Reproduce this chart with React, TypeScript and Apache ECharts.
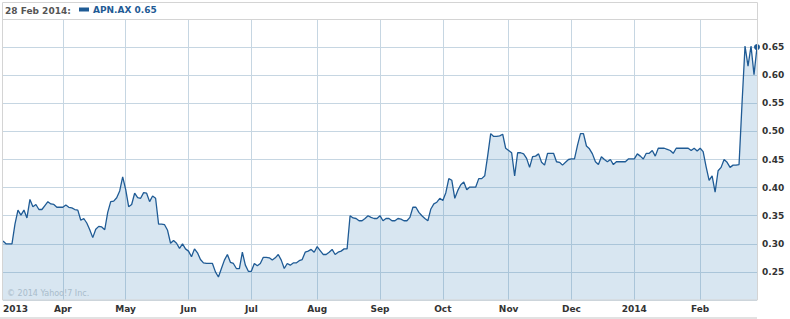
import React, { useEffect, useRef } from 'react';
import * as echarts from 'echarts';

// Tick labels at the first trading day of each month
const monthLabels = ['2013', 'Apr', 'May', 'Jun', 'Jul', 'Aug', 'Sep', 'Oct', 'Nov', 'Dec', '2014', 'Feb'];

// Daily closing prices (AUD), one array per month
const mar13 = [0.305, 0.30, 0.30, 0.30, 0.335, 0.36, 0.351, 0.36, 0.346, 0.379, 0.366, 0.37, 0.361, 0.361, 0.368, 0.375, 0.371, 0.37, 0.365, 0.365];
const apr13 = [0.365, 0.369, 0.365, 0.364, 0.361, 0.36, 0.342, 0.345, 0.337, 0.325, 0.311, 0.326, 0.331, 0.33, 0.325, 0.356, 0.375, 0.376, 0.382, 0.394, 0.419];
const may13 = [0.397, 0.366, 0.37, 0.39, 0.382, 0.381, 0.391, 0.39, 0.375, 0.385, 0.381, 0.335, 0.335, 0.334, 0.324, 0.301, 0.306, 0.301, 0.292, 0.30, 0.291];
const jun13 = [0.287, 0.277, 0.291, 0.284, 0.272, 0.266, 0.265, 0.265, 0.265, 0.25, 0.241, 0.256, 0.271, 0.281, 0.267, 0.265, 0.256, 0.256, 0.285, 0.262, 0.251];
const jul13 = [0.251, 0.265, 0.261, 0.265, 0.276, 0.276, 0.275, 0.271, 0.275, 0.281, 0.271, 0.256, 0.265, 0.262, 0.266, 0.266, 0.27, 0.272, 0.285, 0.287, 0.29, 0.285];
const aug13 = [0.295, 0.288, 0.281, 0.281, 0.285, 0.29, 0.281, 0.285, 0.287, 0.291, 0.291, 0.35, 0.346, 0.345, 0.341, 0.341, 0.345, 0.35, 0.347, 0.345, 0.345];
const sep13 = [0.35, 0.341, 0.345, 0.345, 0.341, 0.341, 0.345, 0.344, 0.341, 0.341, 0.347, 0.365, 0.365, 0.356, 0.35, 0.345, 0.341, 0.362, 0.371, 0.374, 0.381];
const oct13 = [0.377, 0.391, 0.416, 0.413, 0.381, 0.395, 0.405, 0.41, 0.396, 0.401, 0.401, 0.401, 0.416, 0.416, 0.421, 0.457, 0.496, 0.491, 0.491, 0.492, 0.495, 0.47];
const nov13 = [0.466, 0.462, 0.421, 0.462, 0.462, 0.46, 0.452, 0.436, 0.455, 0.456, 0.46, 0.445, 0.44, 0.461, 0.461, 0.461, 0.446, 0.445, 0.44, 0.445, 0.45];
const dec13 = [0.451, 0.451, 0.475, 0.496, 0.496, 0.474, 0.469, 0.46, 0.446, 0.441, 0.455, 0.45, 0.446, 0.45, 0.441, 0.446, 0.446, 0.446, 0.446, 0.451, 0.451];
const jan14 = [0.451, 0.46, 0.456, 0.451, 0.461, 0.461, 0.466, 0.456, 0.47, 0.47, 0.47, 0.468, 0.466, 0.461, 0.47, 0.47, 0.47, 0.47, 0.47, 0.466, 0.47, 0.465];
const feb14 = [0.47, 0.464, 0.437, 0.413, 0.421, 0.392, 0.43, 0.436, 0.45, 0.445, 0.436, 0.44, 0.44, 0.441, 0.55, 0.652, 0.616, 0.652, 0.601, 0.65];

const months = [mar13, apr13, may13, jun13, jul13, aug13, sep13, oct13, nov13, dec13, jan14, feb14];

const ticker = 'APN.AX';
const lastDate = '28 Feb 2014:';
const copyright = '\u00A9 2014 Yahoo!7 Inc.';

const FONT = '"DejaVu Sans", Verdana, sans-serif';
const BLUE = '#1f5b95';
const GRID = '#c6d6e2';

export default function App() {
  const ref = useRef<HTMLDivElement>(null);

  useEffect(() => {
    document.body.style.margin = '0';
    const chart = echarts.init(ref.current as HTMLDivElement, null, { renderer: 'svg' });

    const values: number[] = [];
    const starts: number[] = [];
    months.forEach((m) => {
      starts.push(values.length);
      values.push(...m);
    });
    const labelAt = new Map<number, string>();
    starts.forEach((s, k) => labelAt.set(s, monthLabels[k]));
    const categories = values.map((_, i) => String(i));
    const last = values.length - 1;

    chart.setOption({
      animation: false,
      grid: { left: 2, right: 33, top: 19, height: 281, containLabel: false },
      legend: {
        left: 79,
        top: 5,
        padding: 0,
        icon: 'rect',
        itemWidth: 10,
        itemHeight: 4,
        itemGap: 10,
        data: [{ name: ticker, icon: 'rect', itemStyle: { color: BLUE } }],
        formatter: (name: string) => `${name} ${values[last].toFixed(2)}`,
        textStyle: { fontFamily: FONT, fontSize: 9, fontWeight: 'bold', color: BLUE, padding: [0, 0, 0, -1] },
      },
      xAxis: {
        type: 'category',
        data: categories,
        boundaryGap: false,
        axisLine: { show: false },
        axisTick: { show: false },
        axisLabel: {
          interval: (i: number) => labelAt.has(i),
          formatter: (_v: string, i: number) => labelAt.get(i) ?? '',
          showMinLabel: true,
          alignMinLabel: 'left',
          margin: 4,
          fontFamily: FONT,
          fontSize: 9,
          fontWeight: 'bold',
          color: '#333333',
        },
        splitLine: {
          show: true,
          interval: (i: number) => labelAt.has(i) && i > 0,
          lineStyle: { color: GRID, width: 1 },
        },
      },
      yAxis: {
        type: 'value',
        position: 'right',
        min: 0.2,
        max: 0.7,
        interval: 0.05,
        axisLine: { show: false },
        axisTick: { show: false },
        axisLabel: {
          formatter: (v: number) => v.toFixed(2),
          showMinLabel: false,
          showMaxLabel: false,
          margin: 5,
          fontFamily: FONT,
          fontSize: 9,
          fontWeight: 'bold',
          color: '#333333',
        },
        splitLine: { show: true, lineStyle: { color: GRID, width: 1 } },
      },
      series: [
        {
          type: 'line',
          name: ticker,
          data: values,
          symbol: 'circle',
          showSymbol: true,
          showAllSymbol: true,
          symbolSize: (_v: number, p: any) => (p.dataIndex === last ? 6 : 0),
          lineStyle: { color: BLUE, width: 1.3 },
          itemStyle: { color: BLUE },
          areaStyle: { color: 'rgba(60,130,185,0.2)', opacity: 1, origin: 'start' },
          emphasis: { disabled: true },
        },
      ],
      graphic: [
        {
          type: 'rect',
          shape: { x: 2.5, y: 2.5, width: 755, height: 297.5 },
          style: { fill: 'none', stroke: '#d4d4d4', lineWidth: 1 },
          silent: true,
          z: 10,
        },
        {
          type: 'line',
          shape: { x1: 2.5, y1: 19.5, x2: 757.5, y2: 19.5 },
          style: { stroke: '#d4d4d4', lineWidth: 1 },
          silent: true,
          z: 10,
        },
        {
          type: 'rect',
          shape: { x: 0, y: 317, width: 757, height: 2 },
          style: { fill: '#e2e2e2' },
          silent: true,
        },
        {
          type: 'text',
          left: 5,
          top: 6,
          style: { text: lastDate, fontFamily: FONT, fontSize: 9, fontWeight: 'bold', fill: '#555555' },
          silent: true,
        },
        {
          type: 'text',
          left: 7,
          top: 289,
          style: { text: copyright, fontFamily: FONT, fontSize: 8, fill: '#a9bccb' },
          silent: true,
          z: 10,
        },
      ],
    });

    return () => chart.dispose();
  }, []);

  return <div ref={ref} style={{ width: 790, height: 319 }} />;
}
